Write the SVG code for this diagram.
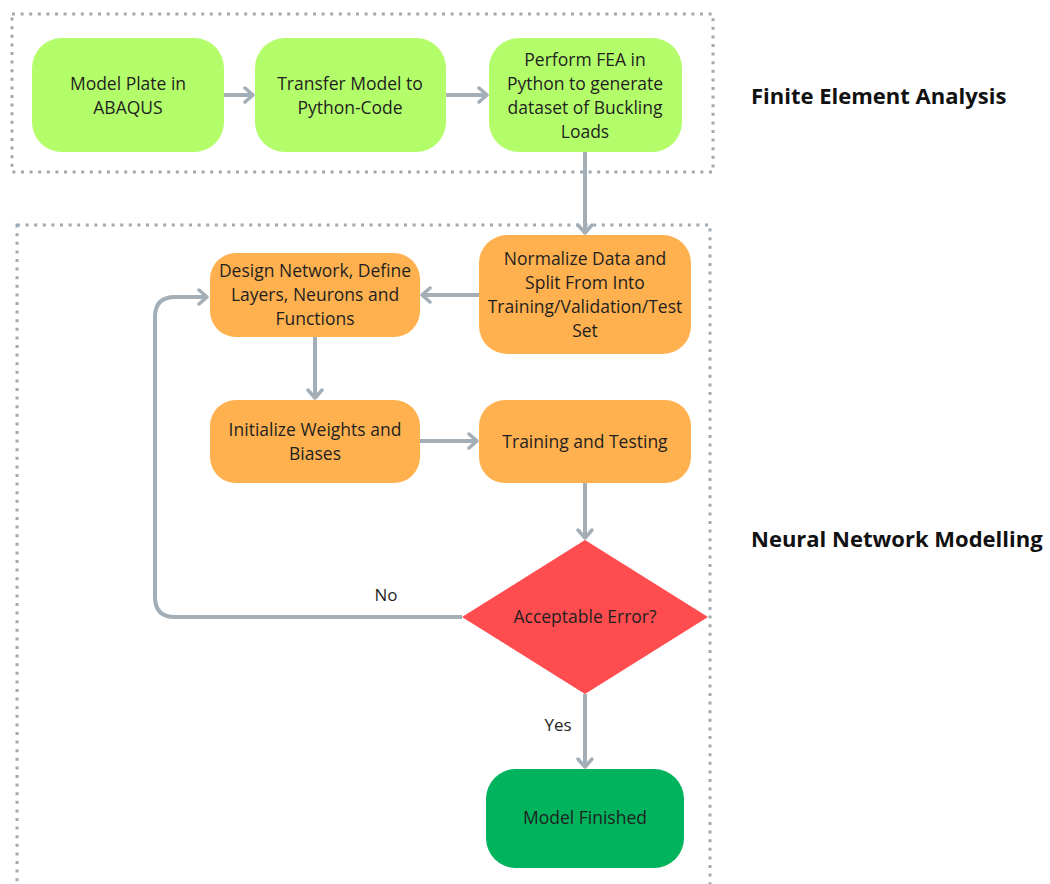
<svg xmlns="http://www.w3.org/2000/svg" width="1050" height="884" viewBox="0 0 1050 884">
<style>
.frame{fill:none;stroke:#9ea9b2;stroke-width:3;stroke-dasharray:3 5.6}
.conn{fill:none;stroke:#a3aeb7;stroke-width:4;marker-end:url(#arr)}
.lg{fill:#b4fd6a}
.or{fill:#ffb14f}
.rd{fill:#ff4d4f}
.gn{fill:#00b35c}
.t{font-family:"Open Sans","Noto Sans","Liberation Sans",sans-serif;font-size:17.5px;fill:#1f1f1f;text-anchor:middle}
.h{font-family:"Open Sans","Noto Sans","Liberation Sans",sans-serif;font-size:22px;font-weight:bold;fill:#111}
.lbl{font-family:"Open Sans","Noto Sans","Liberation Sans",sans-serif;font-size:17px;fill:#1f1f1f;text-anchor:middle}
</style>
<defs>
<marker id="arr" markerUnits="userSpaceOnUse" viewBox="0 0 12 18" markerWidth="12" markerHeight="18" refX="10" refY="9" orient="auto">
<path d="M2,2 L10,9 L2,16" fill="none" stroke="#a3aeb7" stroke-width="3.5" stroke-linecap="round" stroke-linejoin="round"/>
</marker>
</defs>
<rect width="1050" height="884" fill="#ffffff"/>
<g id="frames">
<rect class="frame" x="12" y="14" width="701" height="158"/>
<rect class="frame" x="17" y="225" width="693" height="680"/>
</g>
<g id="titles">
<text class="h" x="751" y="104">Finite Element Analysis</text>
<text class="h" x="751" y="547">Neural Network Modelling</text>
</g>
<g id="connectors">
<line class="conn" x1="224" y1="95" x2="253" y2="95"/>
<line class="conn" x1="446" y1="95" x2="487" y2="95"/>
<line class="conn" x1="585" y1="152" x2="585" y2="233"/>
<line class="conn" x1="479" y1="295" x2="422" y2="295"/>
<line class="conn" x1="315" y1="337" x2="315" y2="398"/>
<line class="conn" x1="420" y1="441" x2="477" y2="441"/>
<line class="conn" x1="585" y1="483" x2="585" y2="538"/>
<path class="conn" d="M462,617 H175 Q155,617 155,597 V317 Q155,297 175,297 H207"/>
<line class="conn" x1="585" y1="694" x2="585" y2="767"/>
<text class="lbl" x="386" y="601">No</text>
<text class="lbl" x="558" y="731">Yes</text>
</g>
<g id="n1">
<rect class="lg" x="32" y="38" width="192" height="114" rx="30"/>
<text class="t" x="128" y="90">Model Plate in</text>
<text class="t" x="128" y="114">ABAQUS</text>
</g>
<g id="n2">
<rect class="lg" x="255" y="38" width="191" height="114" rx="30"/>
<text class="t" x="350" y="90">Transfer Model to</text>
<text class="t" x="350" y="114">Python-Code</text>
</g>
<g id="n3">
<rect class="lg" x="489" y="38" width="193" height="114" rx="30"/>
<text class="t" x="585" y="66">Perform FEA in</text>
<text class="t" x="585" y="90">Python to generate</text>
<text class="t" x="585" y="114">dataset of Buckling</text>
<text class="t" x="585" y="138">Loads</text>
</g>
<g id="n4">
<rect class="or" x="479" y="235" width="212" height="119" rx="28"/>
<text class="t" x="585" y="265">Normalize Data and</text>
<text class="t" x="585" y="289">Split From Into</text>
<text class="t" x="585" y="313">Training/Validation/Test</text>
<text class="t" x="585" y="337">Set</text>
</g>
<g id="n5">
<rect class="or" x="210" y="253" width="210" height="84" rx="26"/>
<text class="t" x="315" y="277">Design Network, Define</text>
<text class="t" x="315" y="301">Layers, Neurons and</text>
<text class="t" x="315" y="325">Functions</text>
</g>
<g id="n6">
<rect class="or" x="210" y="400" width="210" height="83" rx="26"/>
<text class="t" x="315" y="436">Initialize Weights and</text>
<text class="t" x="315" y="460">Biases</text>
</g>
<g id="n7">
<rect class="or" x="479" y="400" width="212" height="83" rx="26"/>
<text class="t" x="585" y="448">Training and Testing</text>
</g>
<g id="n8">
<polygon class="rd" points="585,540 708,617 585,694 462,617"/>
<text class="t" x="585" y="623">Acceptable Error?</text>
</g>
<g id="n9">
<rect class="gn" x="486" y="769" width="198" height="99" rx="30"/>
<text class="t" x="585" y="824">Model Finished</text>
</g>
</svg>
